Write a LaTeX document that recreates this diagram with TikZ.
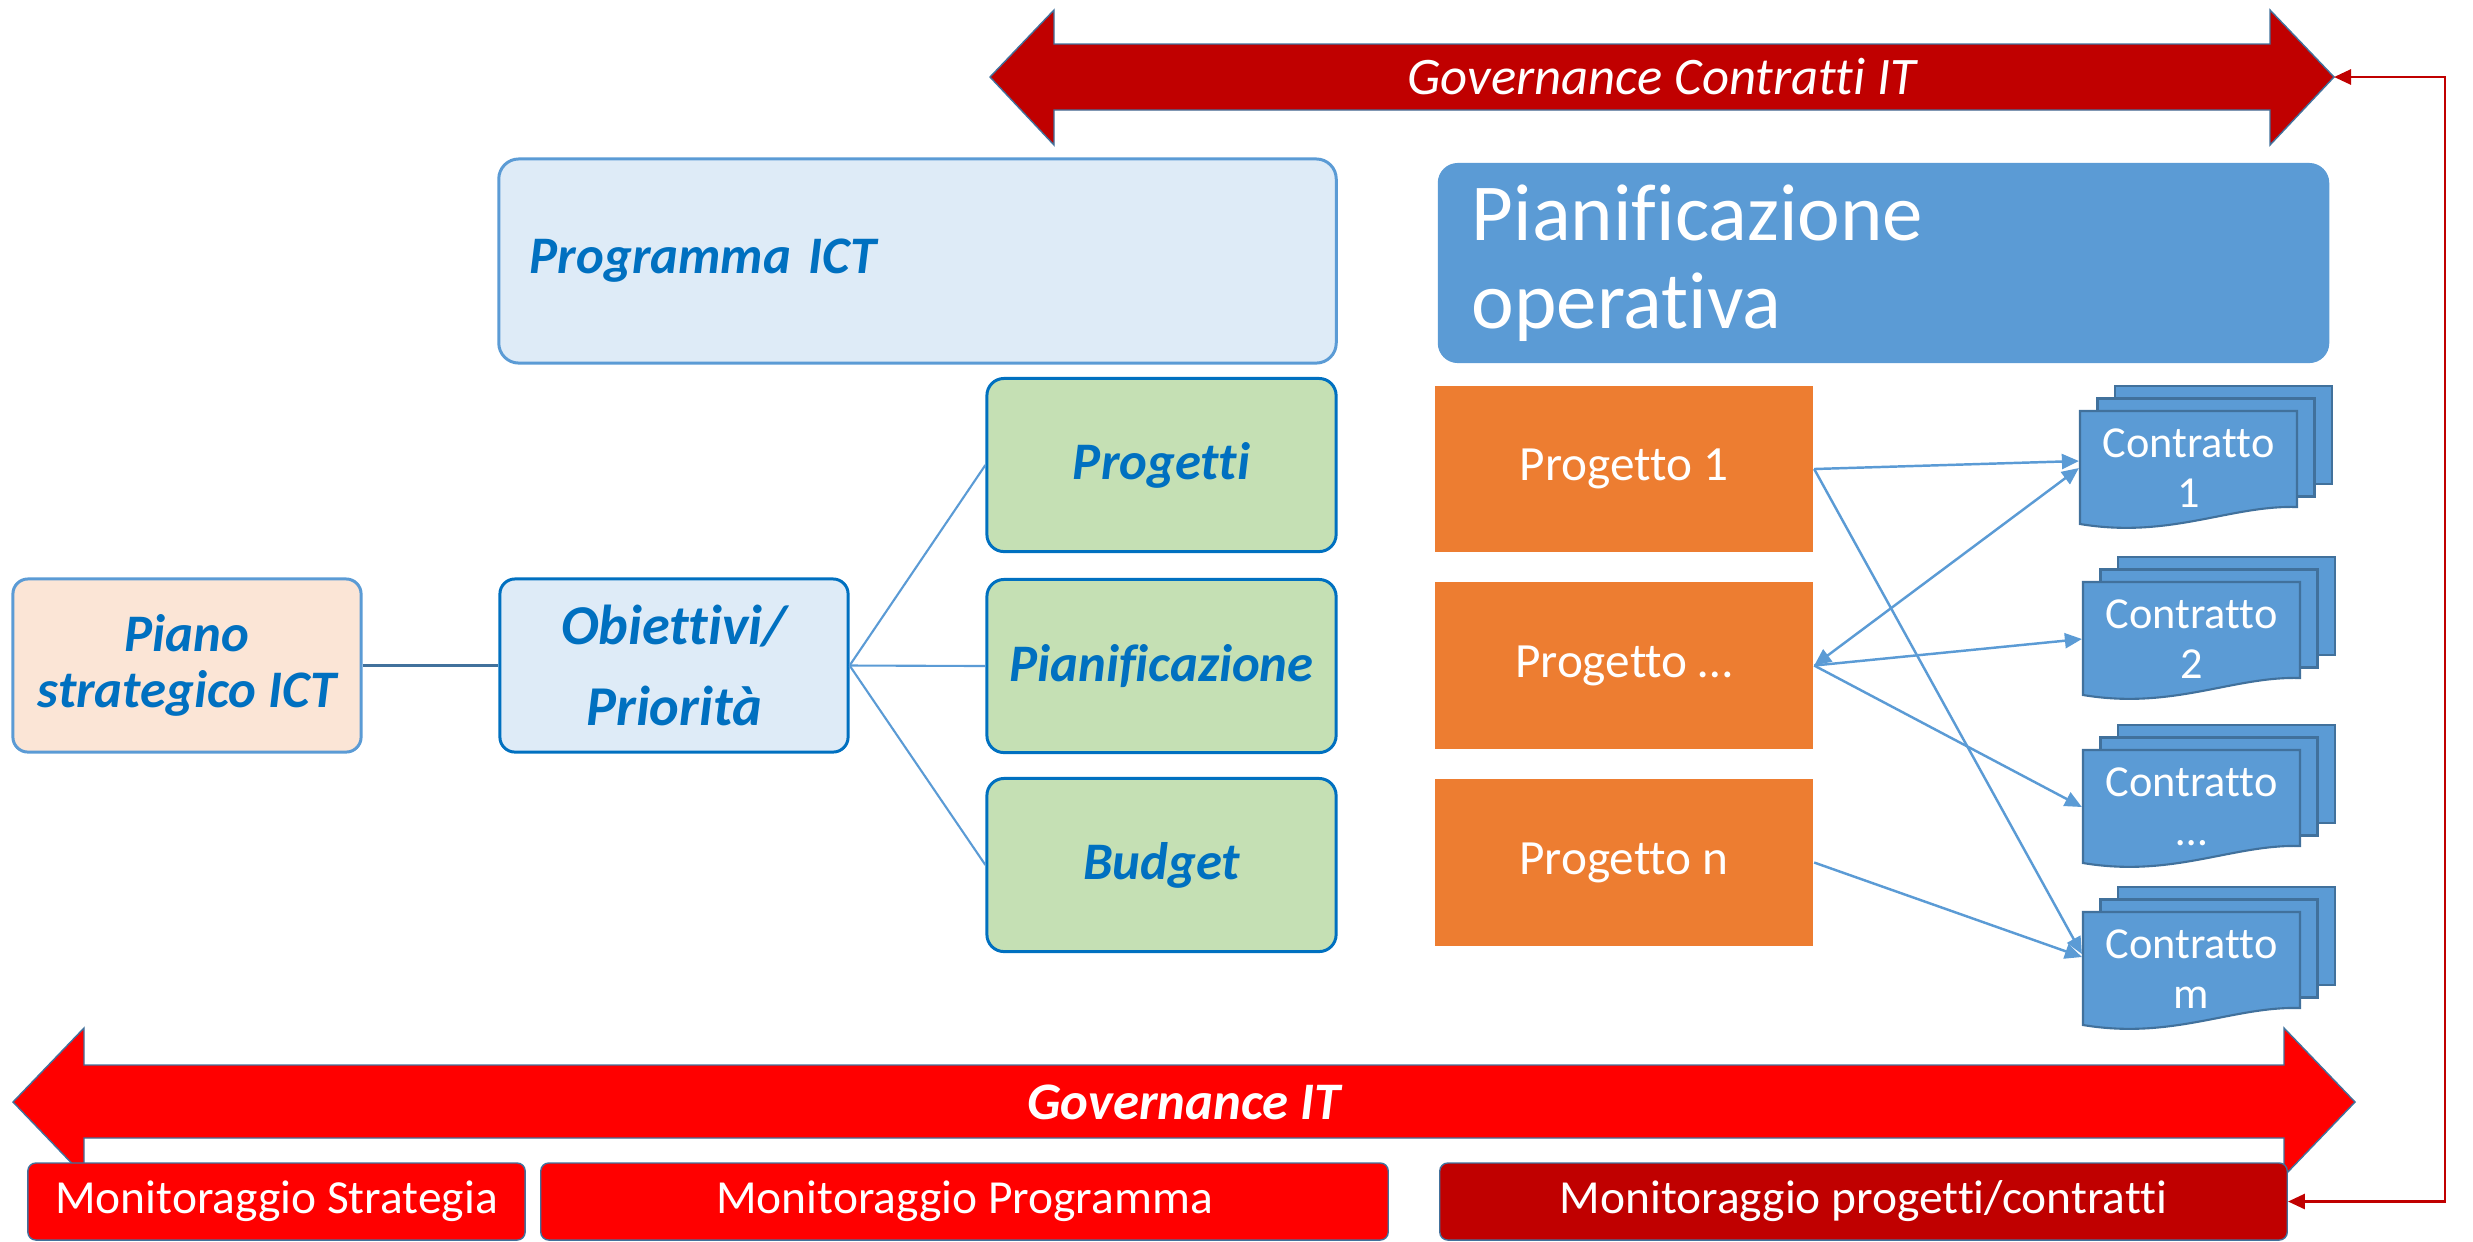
\documentclass[tikz,border=0pt]{standalone}
\usepackage{fontspec}
\setmainfont{Carlito}[Ligatures=NoCommon]
\usetikzlibrary{arrows.meta}
\definecolor{piano_fill}{RGB}{251,229,214}
\definecolor{azzurro_fill}{RGB}{222,235,247}
\definecolor{verde_fill}{RGB}{197,224,180}
\definecolor{blu_testo}{RGB}{0,112,192}
\definecolor{blu_chiaro}{RGB}{91,155,213}
\definecolor{blu_bordo}{RGB}{65,113,156}
\definecolor{arancio}{RGB}{237,125,49}
\definecolor{rosso_scuro}{RGB}{192,0,0}
\definecolor{rosso}{RGB}{255,0,0}

\newcommand{\corpo}[2]{\fontsize{#1}{#2}\selectfont}
% pila di fogli: nome, angolo in alto a sinistra (x,y), riga sotto
\newcommand{\contratto}[4]{%
  \foreach \d in {2,1}
    \filldraw[pagina] (#2+17.5*\d,#3-12.5*\d) rectangle ++(217,98);
  \filldraw[pagina] (#2,#3) -- ++(217,0) -- ++(0,96)
     .. controls (#2+150,#3+94) and (#2+90,#3+128) .. (#2,#3+113) -- cycle;
  \node[contr] (#1) at (#2+108.5,#3+57) {Contratto\\#4};
}

\begin{document}
\begin{tikzpicture}[x=0.01cm,y=-0.01cm,semithick,>={Triangle[length=0.17cm,width=0.15cm]}]
    \tikzstyle{box}=[draw=blu_chiaro, line width=0.85pt, rounded corners=0.15cm, fill=azzurro_fill, text=blu_testo, align=center, inner sep=0pt, font=\corpo{15}{16}\bfseries\itshape]
    \tikzstyle{voce}=[style=box, draw=blu_testo, fill=verde_fill, minimum width=3.49cm, minimum height=1.73cm, rounded corners=0.17cm]
    \tikzstyle{prog}=[fill=arancio, minimum width=3.78cm, minimum height=1.66cm, text=white, font=\corpo{14}{16}]
    \tikzstyle{pagina}=[fill=blu_chiaro, draw=blu_bordo, line width=0.6pt]
    \tikzstyle{contr}=[minimum width=2.17cm, minimum height=0.98cm, inner sep=0pt, text=white, align=center, font=\corpo{12.6}{14}]
    \tikzstyle{monitor}=[fill=rosso, draw=blu_bordo, thin, rounded corners=0.08cm, minimum height=0.77cm, text=white, font=\corpo{13.5}{14}]
    \tikzstyle{linea}=[draw=blu_chiaro, line width=0.6pt]
    \tikzstyle{freccia}=[draw=blu_chiaro, line width=0.7pt]

    \useasboundingbox (0,0) rectangle (2473,1241);

    % governance contratti
    \filldraw[fill=rosso_scuro, draw=blu_bordo, thin] (990,77) -- (1054,10) -- (1054,44) -- (2270,44) -- (2270,10) -- (2334,77)
       -- (2270,145) -- (2270,110) -- (1054,110) -- (1054,145) -- cycle;
    \node[text=white, font=\corpo{15}{16}\itshape] (govcontratti) at (1662,77) {Governance Contratti IT};
    \coordinate (govtip) at (2334,77);

    % governance IT
    \filldraw[fill=rosso, draw=blu_bordo, thin] (13,1102) -- (84,1028) -- (84,1065) -- (2284,1065) -- (2284,1028) -- (2355,1102)
       -- (2284,1176) -- (2284,1138) -- (84,1138) -- (84,1176) -- cycle;
    \node[text=white, font=\corpo{15}{16}\bfseries\itshape] (govit) at (1184,1102) {Governance IT};

    \node[box, fill=piano_fill, minimum width=3.48cm, minimum height=1.73cm] (piano) at (187,665.5) {Piano\\strategico ICT};
    \node[box, draw=blu_testo, minimum width=3.48cm, minimum height=1.73cm, font=\corpo{16}{23}\bfseries\itshape] (obiettivi) at (674,665.5) {Obiettivi/\\Priorità};
    \node[box, minimum width=8.37cm, minimum height=2.04cm, rounded corners=0.2cm, text width=7.75cm, align=left] (programma) at (917.5,261) {Programma ICT};

    \node[voce] (progetti) at (1161.5,465) {Progetti};
    \node[voce] (pianif)   at (1161.5,666) {Pianificazione};
    \node[voce] (budget)   at (1161.5,865) {Budget};

    \node[fill=blu_chiaro, rounded corners=0.2cm, minimum width=8.91cm, minimum height=2.0cm, text width=8.23cm, align=left, inner sep=0pt, text=white, font=\corpo{23}{25}] (operativa) at (1883.5,263) {Pianificazione\\operativa};

    \node[prog] (p1)    at (1624,469)   {Progetto 1};
    \node[prog] (pdots) at (1624,665.5) {Progetto …};
    \node[prog] (pn)    at (1624,862.5) {Progetto n};

    \contratto{c1}{2080}{411}{1}
    \contratto{c2}{2083}{582}{2}
    \contratto{c3}{2083}{750}{…}
    \contratto{cm}{2083}{912}{m}

    \node[monitor, minimum width=4.97cm] (mstrategia) at (276.5,1201.5) {Monitoraggio Strategia};
    \node[monitor, minimum width=8.47cm] (mprogramma) at (964.5,1201.5) {Monitoraggio Programma};
    \node[monitor, fill=rosso_scuro, minimum width=8.47cm] (mprogetti) at (1863.5,1201.5) {Monitoraggio progetti/contratti};

    \path
     (piano) edge[draw=blu_bordo, line width=0.8pt] (obiettivi)
     (obiettivi.east) edge[linea] (progetti.west)
     (obiettivi.east) edge[linea] (pianif.west)
     (obiettivi.east) edge[linea] (budget.west)
     ;
    \path[->]
     (p1.east) edge[freccia] ([yshift=0.07cm]c1.west)
     (p1.east) edge[freccia] ([yshift=0.15cm]cm.west)
     (pdots.east) edge[freccia, <->] (c1.west)
     (pdots.east) edge[freccia] (c2.west)
     (pdots.east) edge[freccia] (c3.west)
     (pn.east) edge[freccia] ([yshift=0.12cm]cm.west)
     ;

    % ritorno dal monitoraggio
    \coordinate (fbtop) at (2445,77);
    \draw[<->, draw=rosso_scuro, line width=0.8pt] (govtip) -- (fbtop) |- (mprogetti.east);
\end{tikzpicture}
\end{document}
